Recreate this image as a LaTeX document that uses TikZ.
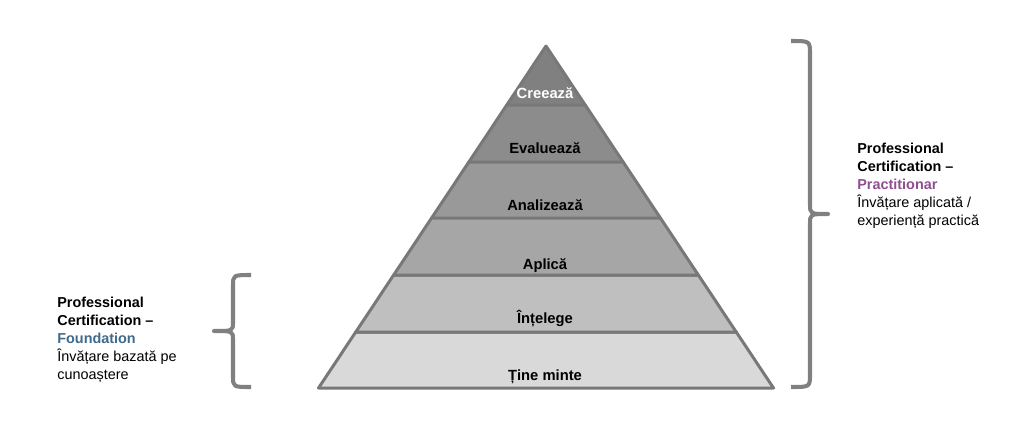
\documentclass[tikz,border=0pt]{standalone}
\usepackage{fontspec}
\setmainfont{Liberation Sans}

\definecolor{edgegray}{HTML}{787878}
\definecolor{bracegray}{HTML}{808080}
\definecolor{lvlsix}{HTML}{808080}
\definecolor{lvlfive}{HTML}{8C8C8C}
\definecolor{lvlfour}{HTML}{999999}
\definecolor{lvlthree}{HTML}{A6A6A6}
\definecolor{lvltwo}{HTML}{BFBFBF}
\definecolor{lvlone}{HTML}{D9D9D9}
\definecolor{foundblue}{HTML}{3F6A8A}
\definecolor{practpurple}{HTML}{8E4F8E}

\begin{document}
\begin{tikzpicture}[
    x=0.02cm, y=-0.02cm,
    layer/.style={draw=edgegray, line width=1.7pt, line join=round},
    lvl/.style={font=\fontsize{8.4}{10}\selectfont\bfseries, anchor=base, inner sep=0pt},
    brace/.style={draw=bracegray, line width=2.3pt, line join=round},
    info/.style={font=\fontsize{8.2}{10.2}\selectfont, align=left, anchor=north west, inner sep=0pt},
]
\useasboundingbox (0,0) rectangle (1024,440);

% Pyramid layers
\path[layer, fill=lvlone]   (318.5,388) -- (773.5,388) -- (736.25,332) -- (355.75,332) -- cycle;
\path[layer, fill=lvltwo]   (355.75,332) -- (736.25,332) -- (698.33,275) -- (393.67,275) -- cycle;
\path[layer, fill=lvlthree] (393.67,275) -- (698.33,275) -- (660.41,218) -- (431.59,218) -- cycle;
\path[layer, fill=lvlfour]  (431.59,218) -- (660.41,218) -- (623.16,162) -- (468.84,162) -- cycle;
\path[layer, fill=lvlfive]  (468.84,162) -- (623.16,162) -- (585.25,105) -- (506.75,105) -- cycle;
\path[layer, fill=lvlsix]   (506.75,105) -- (585.25,105) -- (546,46) -- cycle;

% Layer labels
\node[lvl, text=white] (creeaza) at (545, 98) {Creează};
\node[lvl] (evalueaza) at (545, 153) {Evaluează};
\node[lvl] (analizeaza) at (545, 210) {Analizează};
\node[lvl] (aplica) at (545, 269) {Aplică};
\node[lvl] (intelege) at (545, 323) {Înțelege};
\node[lvl] (tineminte) at (545, 380) {Ține minte};

% Right brace
\path[brace] (791,41) .. controls (810,41) .. (810,54) -- (810,204)
    .. controls (810,214) .. (828,214)
    .. controls (810,214) .. (810,224) -- (810,374)
    .. controls (810,387) .. (791,387);

% Left brace
\path[brace] (251,275) .. controls (233,275) .. (233,286) -- (233,322)
    .. controls (233,331) .. (214,331)
    .. controls (233,331) .. (233,340) -- (233,376)
    .. controls (233,387) .. (251,387);

% Certification texts
\node[info] (practitionar) at (857, 143)
    {\textbf{Professional}\\ \textbf{Certification –}\\ \textbf{\textcolor{practpurple}{Practitionar}}\\ Învățare aplicată /\\ experiență practică};
\node[info] (foundation) at (57, 297)
    {\textbf{Professional}\\ \textbf{Certification –}\\ \textbf{\textcolor{foundblue}{Foundation}}\\ Învățare bazată pe\\ cunoaștere};

\end{tikzpicture}
\end{document}
